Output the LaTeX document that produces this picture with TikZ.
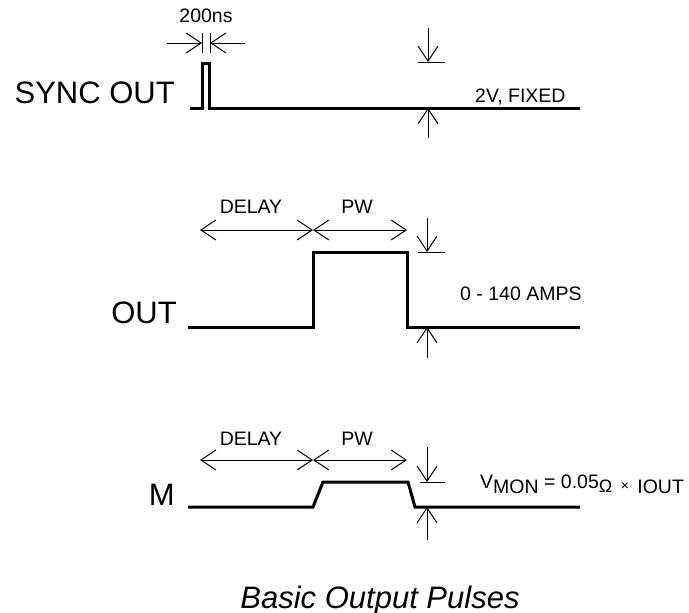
\documentclass[tikz,border=0pt]{standalone}
\usepackage{fontspec}
\setmainfont{Liberation Sans}
\usepackage{tikz}
\usetikzlibrary{arrows.meta,positioning}

\begin{document}
\begin{tikzpicture}[
    x=1pt, y=-1pt,
    wave/.style={line width=3pt, line join=miter},
    tick/.style={line width=1pt},
    arr/.style={line width=1pt, -{Straight Barb[length=15pt, width=20pt]}},
    darr/.style={line width=1pt, {Straight Barb[length=15pt, width=20pt]}-{Straight Barb[length=15pt, width=20pt]}},
    siglabel/.style={font=\fontsize{31}{31}\selectfont, inner sep=0pt, anchor=base east},
    note/.style={font=\fontsize{19.5}{20}\selectfont, inner sep=0pt},
]
\useasboundingbox (0,0) rectangle (689,613);

% SYNC OUT trace
\node[siglabel] (syncL) at (175,103) {SYNC OUT};
\draw[wave] (190,108) -- (202,108) -- (202,63) -- (209,63) -- (209,108) -- (580,108);

% 200ns width marker
\coordinate (wL) at (202,43);
\coordinate (wR) at (210,43);
\coordinate (wLout) at (167,43);
\coordinate (wRout) at (245,43);
\draw[tick] (202,33) -- (202,53);
\draw[tick] (210,33) -- (210,53);
\draw[arr] (wLout) -- (wL);
\draw[arr] (wRout) -- (wR);
\node[note, anchor=base] (wLbl) at (206,22) {200ns};

% SYNC OUT amplitude
\coordinate (sTop) at (428,62);
\coordinate (sBase) at (428,108);
\draw[tick] (418,62) -- (445,62);
\draw[arr] (428,28) -- (sTop);
\draw[arr] (428,138) -- (sBase);
\node[note, anchor=base west] (sAmp) at (475,102) {2V, FIXED};

% OUT trace
\node[siglabel] (outL) at (177,323) {OUT};
\draw[wave] (188,327) -- (313,327) -- (313,252) -- (407,252) -- (407,327) -- (580,327);

% OUT timing
\coordinate (oStart) at (200,230);
\coordinate (oRise) at (313,230);
\coordinate (oFall) at (407,230);
\draw[darr] (oStart) -- (oRise);
\draw[darr] (oRise) -- (oFall);
\node[note, anchor=base] (oDelay) at (251,213) {DELAY};
\node[note, anchor=base] (oPw) at (357,213) {PW};

% OUT amplitude
\coordinate (oTop) at (427,252);
\coordinate (oBase) at (427,327);
\draw[tick] (418,252) -- (445,252);
\draw[arr] (427,218) -- (oTop);
\draw[arr] (427,358) -- (oBase);
\node[note, anchor=base west] (oAmp) at (460,300) {0 - 140 AMPS};

% M trace
\node[siglabel] (mL) at (175,505) {M};
\draw[wave] (188,507) -- (313,507) -- (323,482) -- (408,482) -- (415,507) -- (580,507);

% M timing
\coordinate (mStart) at (200,460);
\coordinate (mRise) at (313,460);
\coordinate (mFall) at (407,460);
\draw[darr] (mStart) -- (mRise);
\draw[darr] (mRise) -- (mFall);
\node[note, anchor=base] (mDelay) at (251,445) {DELAY};
\node[note, anchor=base] (mPw) at (357,445) {PW};

% M amplitude
\coordinate (mTop) at (427,482);
\coordinate (mBase) at (427,507);
\draw[tick] (420,482) -- (445,482);
\draw[arr] (427,447) -- (mTop);
\draw[arr] (427,540) -- (mBase);
\node[note, anchor=base west] (mAmp) at (480,488)
    {V\raisebox{-5pt}{MON} = 0.05\raisebox{-4pt}{\fontsize{18}{18}\selectfont Ω}\hspace{3pt}
     \raisebox{-2pt}{\fontsize{14}{14}\selectfont ×}\hspace{3pt} \raisebox{-5pt}{IOUT}};

% Caption
\node[font=\fontsize{31}{31}\selectfont\itshape, inner sep=0pt, anchor=base] (title) at (380,608) {Basic Output Pulses};
\end{tikzpicture}
\end{document}
